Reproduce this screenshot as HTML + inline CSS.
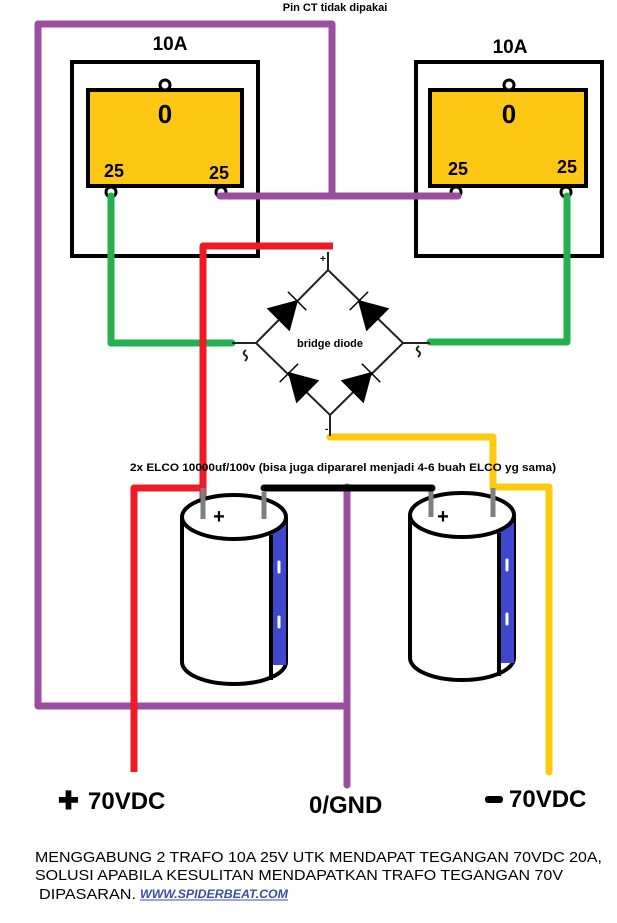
<!DOCTYPE html>
<html><head><meta charset="utf-8"><style>
html,body{margin:0;padding:0;background:#fff;}
svg{display:block;}
text{font-family:"Liberation Sans",sans-serif;}
</style></head><body>
<svg width="617" height="923" viewBox="0 0 617 923" xmlns="http://www.w3.org/2000/svg">
<rect width="617" height="923" fill="#fff"/>
<text x="335" y="11" font-size="11" font-weight="bold" text-anchor="middle">Pin CT tidak dipakai</text>
<!-- transformers -->
<text x="170" y="50" font-size="19" font-weight="bold" text-anchor="middle">10A</text>
<text x="510" y="53" font-size="19" font-weight="bold" text-anchor="middle">10A</text>
<rect x="72" y="62" width="186" height="194" fill="#fff" stroke="#000" stroke-width="4"/>
<rect x="416" y="62" width="186" height="194" fill="#fff" stroke="#000" stroke-width="4"/>
<rect x="88" y="90" width="154" height="96" fill="#fdc713" stroke="#000" stroke-width="4"/>
<rect x="430" y="90" width="156" height="96" fill="#fdc713" stroke="#000" stroke-width="4"/>
<circle cx="165" cy="85" r="5" fill="#fff" stroke="#000" stroke-width="3"/>
<circle cx="509" cy="85" r="5" fill="#fff" stroke="#000" stroke-width="3"/>
<circle cx="111" cy="192" r="5" fill="#fff" stroke="#000" stroke-width="3"/>
<circle cx="221" cy="192" r="5" fill="#fff" stroke="#000" stroke-width="3"/>
<circle cx="456" cy="192" r="5" fill="#fff" stroke="#000" stroke-width="3"/>
<circle cx="566" cy="192" r="5" fill="#fff" stroke="#000" stroke-width="3"/>
<text x="165" y="123" font-size="26" font-weight="bold" text-anchor="middle">0</text>
<text x="509" y="123" font-size="26" font-weight="bold" text-anchor="middle">0</text>
<text x="114" y="177" font-size="18" font-weight="bold" text-anchor="middle">25</text>
<text x="219" y="179" font-size="18" font-weight="bold" text-anchor="middle">25</text>
<text x="458" y="175" font-size="18" font-weight="bold" text-anchor="middle">25</text>
<text x="567" y="173" font-size="18" font-weight="bold" text-anchor="middle">25</text>
<!-- purple -->
<g stroke="#9b4da0" stroke-width="7" fill="none" stroke-linecap="round" stroke-linejoin="round">
<polyline points="332,196 332,24 38,24 38,706 347,706"/>
<line x1="347" y1="487" x2="347" y2="785"/>
<line x1="220" y1="196" x2="458" y2="196"/>
</g>
<!-- green -->
<g stroke="#22b14c" stroke-width="7" fill="none" stroke-linecap="round" stroke-linejoin="round">
<polyline points="111,196 111,343 232,343"/>
<polyline points="567,196 567,342 430,342"/>
</g>
<!-- red -->
<g stroke="#ed1c24" stroke-width="7" fill="none" stroke-linejoin="round">
<polyline points="333,246 203,246 203,515"/>
<polyline points="203,488 134,488 134,772"/>
</g>
<!-- yellow -->
<polyline points="330,437 493,437 493,487 549,487 549,772" stroke="#ffc90e" stroke-width="7" fill="none" stroke-linejoin="round" stroke-linecap="round"/>
<!-- bridge -->
<g stroke="#222" stroke-width="2" fill="none">
<polygon points="328,270 403,343 330,415 256,343"/>
<line x1="328" y1="252" x2="328" y2="270"/>
<line x1="330" y1="415" x2="330" y2="436"/>
<line x1="232" y1="343" x2="256" y2="343"/>
<line x1="403" y1="343" x2="430" y2="343"/>
<path d="M246,350 q-4,3 -1,5 q4,2 0,6"/>
<path d="M419,346 q-4,3 -1,5 q4,2 0,6"/>
</g>
<g fill="#000" stroke="#000" stroke-width="1.5">
<g transform="translate(290,308) rotate(-45)"><polygon points="-16,-15 -16,15 10,0"/><line x1="10" y1="-13" x2="10" y2="13"/></g>
<g transform="translate(366,308) rotate(-135)"><polygon points="-16,-15 -16,15 10,0"/><line x1="10" y1="-13" x2="10" y2="13"/></g>
<g transform="translate(296,380) rotate(-135)"><polygon points="-16,-15 -16,15 10,0"/><line x1="10" y1="-13" x2="10" y2="13"/></g>
<g transform="translate(364,380) rotate(-45)"><polygon points="-16,-15 -16,15 10,0"/><line x1="10" y1="-13" x2="10" y2="13"/></g>
</g>
<text x="320" y="262" font-size="10" font-weight="bold">+</text>
<text x="325" y="432" font-size="10" font-weight="bold">-</text>
<text x="330" y="347" font-size="11" font-weight="bold" text-anchor="middle">bridge diode</text>
<text x="130" y="471" font-size="11" font-weight="bold" textLength="426" lengthAdjust="spacingAndGlyphs">2x ELCO 10000uf/100v (bisa juga dipararel menjadi 4-6 buah ELCO yg sama)</text>
<!-- caps -->
<g stroke="#000" stroke-width="4">
<path d="M182,517 L182,662 A52,22 0 0 0 286,662 L286,517" fill="#fff"/>
<rect x="271" y="525" width="15" height="140" fill="#3f48cc" stroke="none"/>
<ellipse cx="234" cy="517" rx="52" ry="22" fill="#fff"/>
<path d="M410,515 L410,658 A52,22 0 0 0 514,658 L514,515" fill="#fff"/>
<rect x="499" y="523" width="15" height="140" fill="#3f48cc" stroke="none"/>
<ellipse cx="462" cy="515" rx="52" ry="22" fill="#fff"/>
<line x1="271" y1="535" x2="271" y2="680"/>
<line x1="499" y1="533" x2="499" y2="676"/>
</g>
<g stroke="#fff" stroke-width="3" stroke-linecap="round">
<line x1="279" y1="562" x2="279" y2="572"/><line x1="279" y1="617" x2="279" y2="627"/>
<line x1="507" y1="560" x2="507" y2="570"/><line x1="507" y1="614" x2="507" y2="624"/>
</g>
<g stroke="#7f7f7f" stroke-width="5">
<line x1="203" y1="488" x2="203" y2="519"/><line x1="264" y1="492" x2="264" y2="519"/>
<line x1="431" y1="488" x2="431" y2="517"/><line x1="493" y1="488" x2="493" y2="517"/>
</g>
<line x1="264" y1="488" x2="432" y2="488" stroke="#000" stroke-width="7" stroke-linecap="round"/>
<text x="219" y="523" font-size="20" font-weight="bold" text-anchor="middle">+</text>
<text x="443" y="523" font-size="20" font-weight="bold" text-anchor="middle">+</text>
<!-- labels -->
<text x="58" y="809" font-size="25" font-weight="bold">✚</text>
<text x="88" y="809" font-size="24" font-weight="bold">70VDC</text>
<text x="309" y="813" font-size="24" font-weight="bold">0/GND</text>
<rect x="485" y="796" width="18" height="7" rx="3" fill="#000"/>
<text x="509" y="807" font-size="24" font-weight="bold">70VDC</text>
<text x="35" y="862" font-size="15" textLength="567" lengthAdjust="spacingAndGlyphs">MENGGABUNG 2 TRAFO 10A 25V UTK MENDAPAT TEGANGAN 70VDC 20A,</text>
<text x="35" y="880" font-size="15" textLength="528" lengthAdjust="spacingAndGlyphs">SOLUSI APABILA KESULITAN MENDAPATKAN TRAFO TEGANGAN 70V</text>
<text x="39" y="899" font-size="15" textLength="97" lengthAdjust="spacingAndGlyphs">DIPASARAN.</text>
<text x="140" y="898" font-size="12" font-weight="bold" font-style="italic" fill="#3b4ea8" textLength="148" lengthAdjust="spacingAndGlyphs">WWW.SPIDERBEAT.COM</text>
<line x1="140" y1="900" x2="288" y2="900" stroke="#3b4ea8" stroke-width="1"/>
</svg>
</body></html>
